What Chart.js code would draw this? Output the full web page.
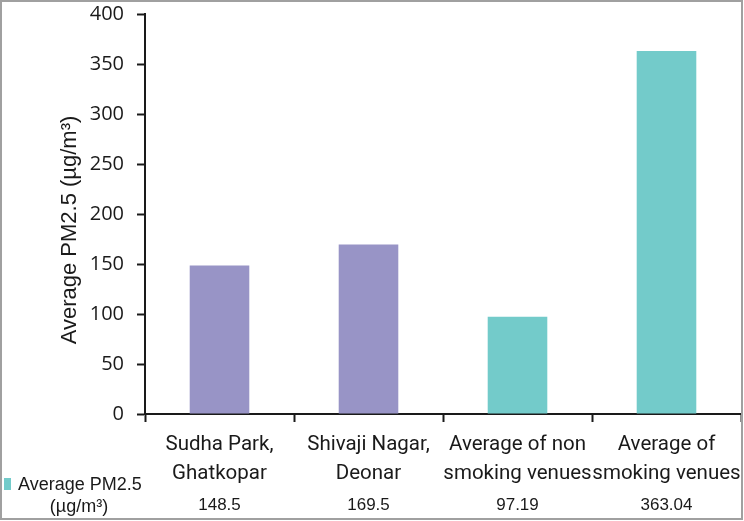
<!DOCTYPE html>
<html>
<head>
<meta charset="utf-8">
<script src="https://cdn.jsdelivr.net/npm/chart.js@4"></script>
<style>
html,body{margin:0;padding:0;background:#fff;}
#wrap{position:relative;width:744px;height:521px;}
</style>
</head>
<body>
<div id="wrap"><canvas id="c"></canvas></div>
<script>
const categories = [["Sudha Park,", "Ghatkopar"], ["Shivaji Nagar,", "Deonar"], ["Average of non", "smoking venues"], ["Average of", "smoking venues"]];
const values = [148.5, 169.5, 97.19, 363.04];
const valueLabels = ["148.5", "169.5", "97.19", "363.04"];
const barColors = ["#9894c6", "#9894c6", "#73cbca", "#73cbca"];
const seriesName = ["Average PM2.5", "(\u00b5g/m\u00b3)"];
const yTitle = "Average PM2.5 (\u00b5g/m\u00b3)";
const yTicks = [0, 50, 100, 150, 200, 250, 300, 350, 400];

const extras = {
  id: 'extras',
  afterDraw(chart) {
    const ctx = chart.ctx;
    const xs = chart.scales.x;
    ctx.save();
    // value row
    ctx.fillStyle = '#1a1a1a';
    ctx.font = '17px "Liberation Sans", Arial, sans-serif';
    ctx.textAlign = 'center';
    ctx.textBaseline = 'alphabetic';
    valueLabels.forEach((t, i) => {
      ctx.fillText(t, xs.getPixelForValue(i), 510);
    });
    // legend
    ctx.fillStyle = barColors[2];
    ctx.fillRect(4, 478, 7, 12);
    ctx.fillStyle = '#1a1a1a';
    ctx.font = '18px "Liberation Sans", Arial, sans-serif';
    ctx.textAlign = 'left';
    ctx.fillText(seriesName[0], 18, 490);
    ctx.textAlign = 'center';
    ctx.fillText(seriesName[1], 79, 512);
    // y title
    ctx.save();
    ctx.translate(70, 230);
    ctx.rotate(-Math.PI / 2);
    ctx.font = '22px "Liberation Sans", Arial, sans-serif';
    ctx.textAlign = 'center';
    ctx.textBaseline = 'middle';
    ctx.fillText(yTitle, 0, 0);
    ctx.restore();
    // frame
    ctx.strokeStyle = '#a0a0a0';
    ctx.lineWidth = 2;
    ctx.strokeRect(1, 1, 741, 518);
    ctx.restore();
  }
};

new Chart(document.getElementById('c'), {
  type: 'bar',
  data: {
    labels: categories,
    datasets: [{
      label: seriesName.join(' '),
      data: values,
      backgroundColor: barColors,
      borderWidth: 0,
      barPercentage: 0.4,
      categoryPercentage: 1.0
    }]
  },
  options: {
    responsive: true,
    maintainAspectRatio: false,
    animation: false,
    devicePixelRatio: 1,
    layout: { padding: { left: 0, top: 14, right: 3, bottom: 0 } },
    plugins: { legend: { display: false }, tooltip: { enabled: false } },
    scales: {
      x: {
        offset: true,
        grid: { offset: true, drawOnChartArea: false, drawTicks: true, tickLength: 8, tickWidth: 2, tickColor: '#1a1a1a' },
        border: { display: true, color: '#1a1a1a', width: 2 },
        ticks: {
          color: '#1a1a1a',
          padding: 9,
          maxRotation: 0,
          autoSkip: false,
          font: { family: 'Roboto, "Liberation Sans", Arial, sans-serif', size: 20.5, lineHeight: 1.39 }
        },
        afterFit(s) { s.height = 107; s.paddingLeft = 0; s.paddingRight = 0; }
      },
      y: {
        min: 0,
        max: 400,
        afterBuildTicks(s) { s.ticks = yTicks.map(v => ({ value: v })); },
        grid: { drawOnChartArea: false, drawTicks: true, tickLength: 8, tickWidth: 2, tickColor: '#1a1a1a' },
        border: { display: true, color: '#1a1a1a', width: 2 },
        ticks: {
          color: '#1a1a1a',
          padding: 13,
          font: { family: '"Open Sans", Arial, sans-serif', size: 20 }
        },
        afterFit(s) { s.width = 145; s.paddingTop = 0; s.paddingBottom = 0; }
      }
    }
  },
  plugins: [extras]
});
</script>
</body>
</html>
